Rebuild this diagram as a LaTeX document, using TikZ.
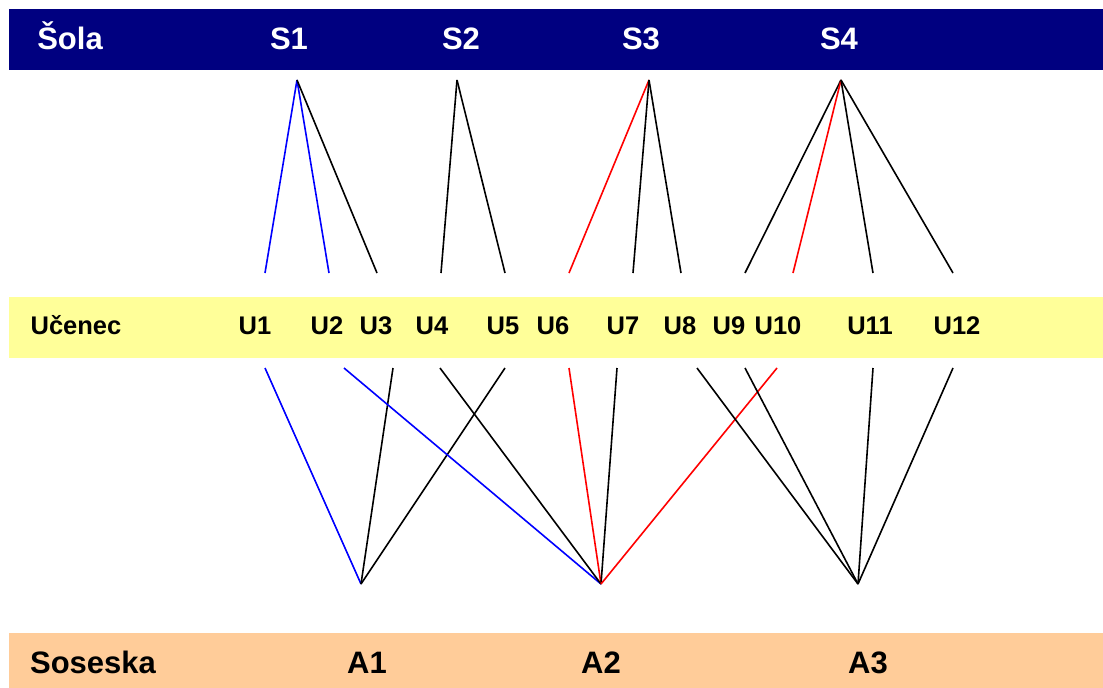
\documentclass[tikz,border=0pt]{standalone}
\usepackage{fontspec}
\setmainfont{Liberation Sans}
\definecolor{navybar}{RGB}{0,0,128}
\definecolor{yellowbar}{RGB}{255,255,153}
\definecolor{orangebar}{RGB}{255,204,153}
\begin{document}
\begin{tikzpicture}[x=1pt,y=-1pt,
  toplbl/.style={anchor=base,text=white,font=\fontsize{31}{31}\selectfont\bfseries,inner sep=0pt},
  midlbl/.style={anchor=base,text=black,font=\fontsize{25.5}{25.5}\selectfont\bfseries,inner sep=0pt},
  botlbl/.style={anchor=base,text=black,font=\fontsize{31}{31}\selectfont\bfseries,inner sep=0pt},
  blk/.style={draw=black,line width=1.6pt},
  blu/.style={draw=blue,line width=1.6pt},
  rd/.style={draw=red,line width=1.6pt}]
\useasboundingbox (0,0) rectangle (1103,688);
% bands
\fill[navybar] (9,9) rectangle (1103,70);
\fill[yellowbar] (9,297) rectangle (1103,358);
\fill[orangebar] (9,633) rectangle (1103,688);
% labels
\node[toplbl] (sola) at (70,49) {Šola};
\node[toplbl] (S1l) at (289,49) {S1};
\node[toplbl] (S2l) at (461,49) {S2};
\node[toplbl] (S3l) at (641,49) {S3};
\node[toplbl] (S4l) at (839,49) {S4};
\node[midlbl] (ucenec) at (76,334) {Učenec};
\node[midlbl] (U1l) at (255,334) {U1};
\node[midlbl] (U2l) at (327,334) {U2};
\node[midlbl] (U3l) at (376,334) {U3};
\node[midlbl] (U4l) at (432,334) {U4};
\node[midlbl] (U5l) at (503,334) {U5};
\node[midlbl] (U6l) at (553,334) {U6};
\node[midlbl] (U7l) at (623,334) {U7};
\node[midlbl] (U8l) at (680,334) {U8};
\node[midlbl] (U9l) at (729,334) {U9};
\node[midlbl] (U10l) at (778,334) {U10};
\node[midlbl] (U11l) at (870,334) {U11};
\node[midlbl] (U12l) at (957,334) {U12};
\node[botlbl] (soseska) at (93,673) {Soseska};
\node[botlbl] (A1l) at (367,673) {A1};
\node[botlbl] (A2l) at (601,673) {A2};
\node[botlbl] (A3l) at (868,673) {A3};
% apex coordinates
\coordinate (s1) at (297,80);
\coordinate (s2) at (457,80);
\coordinate (s3) at (649,80);
\coordinate (s4) at (841,80);
\coordinate (a1) at (361,584);
\coordinate (a2) at (601,584);
\coordinate (a3) at (858,584);
% top end points
\coordinate (t1) at (265,273);
\coordinate (t2) at (329,273);
\coordinate (t3) at (377,273);
\coordinate (t4) at (441,273);
\coordinate (t5) at (505,273);
\coordinate (t6) at (569,273);
\coordinate (t7) at (633,273);
\coordinate (t8) at (681,273);
\coordinate (t9) at (745,273);
\coordinate (t10) at (793,273);
\coordinate (t11) at (873,273);
\coordinate (t12) at (953,273);
% bottom end points
\coordinate (b1) at (265,368);
\coordinate (b2) at (344,368);
\coordinate (b3) at (393,368);
\coordinate (b4) at (440,368);
\coordinate (b5) at (505,368);
\coordinate (b6) at (569,368);
\coordinate (b7) at (617,368);
\coordinate (b8) at (697,368);
\coordinate (b9) at (745,368);
\coordinate (b10) at (777,368);
\coordinate (b11) at (873,368);
\coordinate (b12) at (953,368);
% school connectors
\draw[blu] (s1) -- (t1);
\draw[blu] (s1) -- (t2);
\draw[blk] (s1) -- (t3);
\draw[blk] (s2) -- (t4);
\draw[blk] (s2) -- (t5);
\draw[rd] (s3) -- (t6);
\draw[blk] (s3) -- (t7);
\draw[blk] (s3) -- (t8);
\draw[blk] (s4) -- (t9);
\draw[rd] (s4) -- (t10);
\draw[blk] (s4) -- (t11);
\draw[blk] (s4) -- (t12);
% neighbourhood connectors
\draw[blu] (b1) -- (a1);
\draw[blk] (b3) -- (a1);
\draw[blk] (b5) -- (a1);
\draw[blu] (b2) -- (a2);
\draw[blk] (b4) -- (a2);
\draw[rd] (b6) -- (a2);
\draw[blk] (b7) -- (a2);
\draw[rd] (b10) -- (a2);
\draw[blk] (b8) -- (a3);
\draw[blk] (b9) -- (a3);
\draw[blk] (b11) -- (a3);
\draw[blk] (b12) -- (a3);
\end{tikzpicture}
\end{document}
